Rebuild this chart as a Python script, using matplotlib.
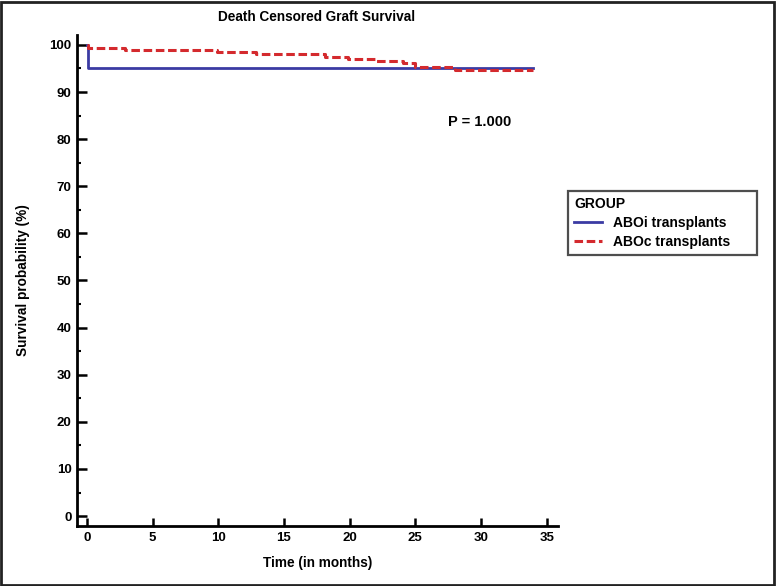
import matplotlib
matplotlib.use('Agg')
import matplotlib.pyplot as plt
from matplotlib.patches import Rectangle
from matplotlib.ticker import MultipleLocator

plt.rcParams['font.family'] = ['Liberation Sans', 'DejaVu Sans']
plt.rcParams['font.weight'] = 'bold'

# Kaplan-Meier step data
aboi_time = [0, 0.1, 34]
aboi_surv = [100, 95, 95]
aboc_time = [0, 0.1, 2.9, 9.9, 12.9, 18.1, 19.9, 21.9, 24.1, 25.0, 28.0, 34]
aboc_surv = [100, 99.3, 98.9, 98.45, 98.1, 97.5, 97.0, 96.6, 96.1, 95.4, 94.7, 94.7]
group_labels = ['ABOi transplants', 'ABOc transplants']
p_text = 'P = 1.000'

fig = plt.figure(figsize=(7.76, 5.86), dpi=100)
ax = fig.add_axes([0.0992, 0.1024, 0.6199, 0.8379])

ax.plot(aboi_time, aboi_surv, drawstyle='steps-post', color='#3b3ba3',
        linewidth=2, label=group_labels[0])
ax.plot(aboc_time, aboc_surv, drawstyle='steps-post', color='#d42a2e',
        linewidth=2.2, linestyle=(0, (2.8, 1.2)), label=group_labels[1])

ax.set_xlim(-0.76, 35.87)
ax.set_ylim(-2.1, 102.1)
ax.xaxis.set_major_locator(MultipleLocator(5))
ax.yaxis.set_major_locator(MultipleLocator(10))
ax.yaxis.set_minor_locator(MultipleLocator(5))
ax.tick_params(axis='both', which='major', direction='in', length=6, width=1.8,
               labelsize=9.5, pad=4)
ax.tick_params(axis='y', which='minor', direction='in', length=3, width=1.5)
ax.tick_params(axis='y', which='major', length=7)
for lab in ax.get_xticklabels() + ax.get_yticklabels():
    lab.set_fontweight('bold')

for side in ['top', 'right']:
    ax.spines[side].set_visible(False)
for side in ['left', 'bottom']:
    ax.spines[side].set_linewidth(2)

ax.set_xlabel('Time (in months)', fontsize=9.8, fontweight='bold', labelpad=9)
ax.set_ylabel('Survival probability (%)', fontsize=9.8, fontweight='bold', labelpad=14)
fig.text(317 / 776, 1 - 17 / 586, 'Death Censored Graft Survival', ha='center',
         va='center', fontsize=9.8, fontweight='bold')
ax.text(29.9, 83.6, p_text, ha='center', va='center', fontsize=10.5, fontweight='bold')

leg = fig.legend(loc='upper left', mode='expand',
                 bbox_to_anchor=(568 / 776, 1 - 254 / 586, 189 / 776, 63 / 586),
                 title='GROUP', fontsize=10, title_fontsize=10, frameon=True,
                 fancybox=False, borderaxespad=0, handlelength=2.0, borderpad=0.45,
                 labelspacing=0.35, handletextpad=0.8)
leg._legend_box.align = 'left'
leg.get_title().set_fontweight('bold')
for t in leg.get_texts():
    t.set_fontweight('bold')
leg.get_frame().set_edgecolor('#222222')
leg.get_frame().set_linewidth(1.6)

fig.patches.append(Rectangle((0.001, 0.002), 0.996, 0.995, transform=fig.transFigure,
                             fill=False, edgecolor='#222222', linewidth=2))

fig.savefig('out.png', dpi=100)
